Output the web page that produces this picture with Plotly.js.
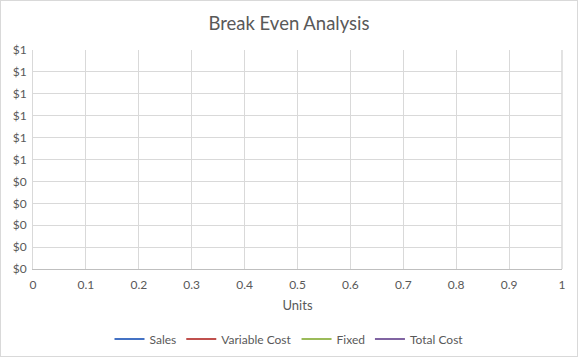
<!DOCTYPE html>
<html>
<head>
<meta charset="utf-8">
<script src="https://cdn.plot.ly/plotly-3.0.1.min.js"></script>
<style>
html,body{margin:0;padding:0;background:#fff;}
#chart{width:576px;height:355px;border:1px solid #d9d9d9;}
</style>
</head>
<body>
<div id="chart"></div>
<script>
// The reference chart contains no plotted data points (empty series).
var units = [];
var sales = [];
var variableCost = [];
var fixed = [];
var totalCost = [];
var seriesNames = ["Sales", "Variable Cost", "Fixed", "Total Cost"];
var seriesColors = ["#4472c4", "#c0504d", "#9bbb59", "#8064a2"];
var xTickVals = [0, 0.1, 0.2, 0.3, 0.4, 0.5, 0.6, 0.7, 0.8, 0.9, 1];
var xTickText = ["0", "0.1", "0.2", "0.3", "0.4", "0.5", "0.6", "0.7", "0.8", "0.9", "1"];
var yTickVals = [0, 0.1, 0.2, 0.3, 0.4, 0.5, 0.6, 0.7, 0.8, 0.9, 1];
var yTickText = ["$0", "$0", "$0", "$0", "$0", "$1", "$1", "$1", "$1", "$1", "$1"];

var seriesValues = [sales, variableCost, fixed, totalCost];
var traces = seriesNames.map(function (n, i) {
  return {
    type: "scatter", mode: "lines", name: n,
    x: units.length ? units : [null], y: seriesValues[i].length ? seriesValues[i] : [null],
    line: {color: seriesColors[i], width: 2},
    showlegend: true
  };
});

var font = "Lato, 'Open Sans', sans-serif";
var layout = {
  width: 576, height: 355,
  margin: {l: 32, r: 15, t: 49, b: 87, pad: 0},
  paper_bgcolor: "#fff", plot_bgcolor: "#fff",
  font: {family: font, size: 12, color: "#595959"},
  title: {text: "Break Even Analysis", font: {family: font, size: 18.5, color: "#595959"}, x: 0.5, xanchor: "center",
          yref: "container", y: 0.937, yanchor: "middle"},
  xaxis: {
    range: [0, 1], tickvals: xTickVals, ticktext: xTickText,
    showgrid: true, gridcolor: "#d9d9d9", gridwidth: 1,
    zeroline: false, showline: true, linecolor: "#bfbfbf", linewidth: 1,
    ticks: "outside", ticklen: 5, tickcolor: "rgba(0,0,0,0)",
    tickfont: {family: font, size: 12, color: "#595959"},
    title: {text: "Units", font: {family: font, size: 13, color: "#595959"}, standoff: 9},
    automargin: false, fixedrange: true
  },
  yaxis: {
    range: [0, 1], tickvals: yTickVals, ticktext: yTickText,
    showgrid: true, gridcolor: "#d9d9d9", gridwidth: 1,
    zeroline: false, showline: true, linecolor: "#d9d9d9", linewidth: 1,
    ticks: "outside", ticklen: 3, tickcolor: "rgba(0,0,0,0)",
    tickfont: {family: font, size: 12, color: "#595959"},
    automargin: false, fixedrange: true
  },
  showlegend: true,
  legend: {orientation: "h", xref: "container", x: 0.5, xanchor: "center", yref: "container", y: 0.048, yanchor: "middle",
           font: {family: font, size: 12, color: "#595959"}, itemwidth: 30, tracegroupgap: 0},
  shapes: [{type: "rect", xref: "paper", yref: "paper", x0: 1, x1: 1, y0: 0, y1: 1, line: {color: "#d9d9d9", width: 1}}]
};
Plotly.newPlot("chart", traces, layout, {displayModeBar: false, staticPlot: true});
</script>
</body>
</html>
